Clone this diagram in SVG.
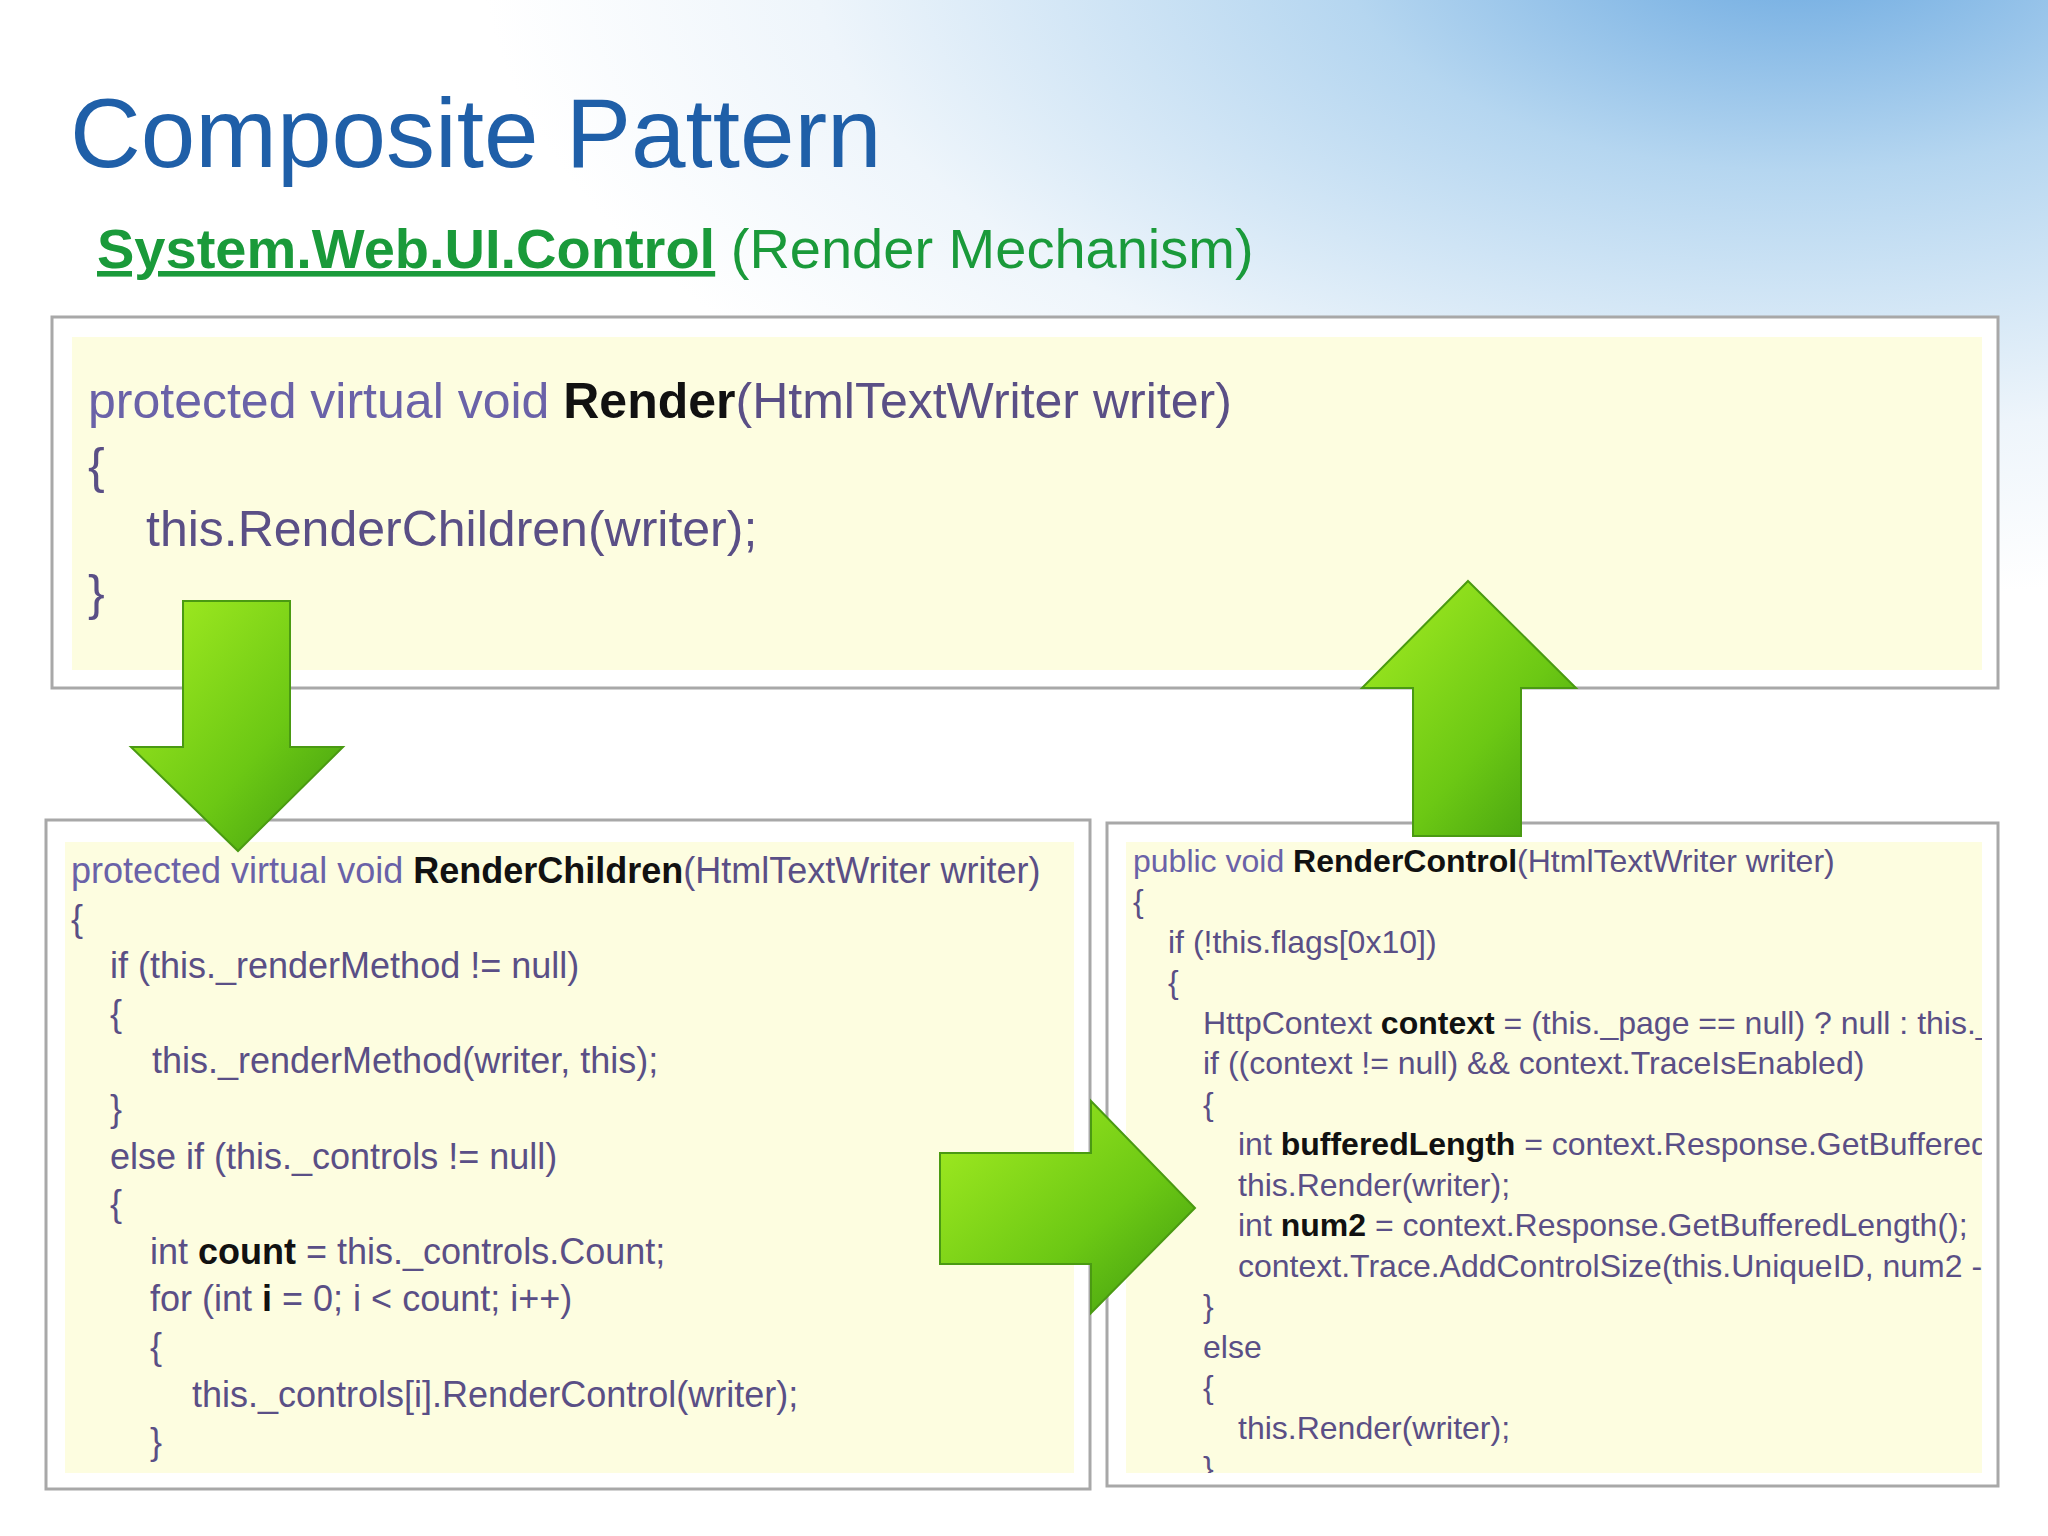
<svg xmlns="http://www.w3.org/2000/svg" width="2048" height="1536" viewBox="0 0 2048 1536">
<defs>
<radialGradient id="sky" cx="1800" cy="-60" r="1100" gradientUnits="userSpaceOnUse" gradientTransform="translate(1800 -60) scale(1.2 0.6) translate(-1800 60)">
<stop offset="0" stop-color="#6aa8e0"/><stop offset="0.35" stop-color="#b5d6f0"/><stop offset="0.75" stop-color="#eef5fb"/><stop offset="1" stop-color="#ffffff"/>
</radialGradient>
<linearGradient id="grn" x1="0" y1="0" x2="1" y2="1">
<stop offset="0" stop-color="#a6ee22"/><stop offset="0.6" stop-color="#6cc814"/><stop offset="1" stop-color="#3e9a10"/>
</linearGradient>
<clipPath id="cr"><rect x="1126" y="842" width="856" height="631"/></clipPath>
<clipPath id="cl"><rect x="65" y="842" width="1009" height="631"/></clipPath>
<style>
.box{fill:#fff;stroke:#a8a8a8;stroke-width:3}
.in{fill:#fdfde0}
.c{font-family:"Liberation Sans",Arial,sans-serif;fill:#5a4f86}
.b{font-weight:bold;fill:#111}
.k{fill:#6a62a8}
.arr{fill:url(#grn);stroke:#4a9a12;stroke-width:2}
</style>
</defs>
<rect width="2048" height="1536" fill="url(#sky)"/>
<text x="70" y="167" font-family="Liberation Sans,Arial,sans-serif" font-size="98" fill="#1f5fa8">Composite Pattern</text>
<text x="97" y="268" font-family="Liberation Sans,Arial,sans-serif" font-size="56" fill="#1a9a3a"><tspan font-weight="bold" text-decoration="underline">System.Web.UI.Control</tspan> (Render Mechanism)</text>

<g id="render">
<rect class="box" x="52" y="317" width="1946" height="371"/>
<rect class="in" x="72" y="337" width="1910" height="333"/>
<text class="c" font-size="50"><tspan x="88" y="418"><tspan class="k">protected virtual void </tspan><tspan class="b">Render</tspan>(HtmlTextWriter writer)</tspan><tspan x="88" y="483">{</tspan><tspan x="146" y="546">this.RenderChildren(writer);</tspan><tspan x="88" y="610">}</tspan></text>
</g>

<g id="renderChildren">
<rect class="box" x="46" y="820" width="1044" height="669"/>
<rect class="in" x="65" y="842" width="1009" height="631"/>
<text class="c" font-size="36" clip-path="url(#cl)">
<tspan x="71" y="883"><tspan class="k">protected virtual void </tspan><tspan class="b">RenderChildren</tspan>(HtmlTextWriter writer)</tspan>
<tspan x="71" y="931">{</tspan>
<tspan x="110" y="978">if (this._renderMethod != null)</tspan>
<tspan x="110" y="1026">{</tspan>
<tspan x="152" y="1073">this._renderMethod(writer, this);</tspan>
<tspan x="110" y="1121">}</tspan>
<tspan x="110" y="1169">else if (this._controls != null)</tspan>
<tspan x="110" y="1216">{</tspan>
<tspan x="150" y="1264">int <tspan class="b">count</tspan> = this._controls.Count;</tspan>
<tspan x="150" y="1311">for (int <tspan class="b">i</tspan> = 0; i &lt; count; i++)</tspan>
<tspan x="150" y="1359">{</tspan>
<tspan x="192" y="1407">this._controls[i].RenderControl(writer);</tspan>
<tspan x="150" y="1454">}</tspan>
</text>
</g>

<g id="renderControl">
<rect class="box" x="1107" y="823" width="891" height="663"/>
<rect class="in" x="1126" y="842" width="856" height="631"/>
<text class="c" font-size="32" clip-path="url(#cr)">
<tspan x="1133" y="872"><tspan class="k">public void </tspan><tspan class="b">RenderControl</tspan>(HtmlTextWriter writer)</tspan>
<tspan x="1133" y="912">{</tspan>
<tspan x="1168" y="953">if (!this.flags[0x10])</tspan>
<tspan x="1168" y="993">{</tspan>
<tspan x="1203" y="1034">HttpContext <tspan class="b">context</tspan> = (this._page == null) ? null : this._page.Context;</tspan>
<tspan x="1203" y="1074">if ((context != null) &amp;&amp; context.TraceIsEnabled)</tspan>
<tspan x="1203" y="1115">{</tspan>
<tspan x="1238" y="1155">int <tspan class="b">bufferedLength</tspan> = context.Response.GetBufferedLength();</tspan>
<tspan x="1238" y="1196">this.Render(writer);</tspan>
<tspan x="1238" y="1236">int <tspan class="b">num2</tspan> = context.Response.GetBufferedLength();</tspan>
<tspan x="1238" y="1277">context.Trace.AddControlSize(this.UniqueID, num2 - bufferedLength);</tspan>
<tspan x="1203" y="1317">}</tspan>
<tspan x="1203" y="1358">else</tspan>
<tspan x="1203" y="1398">{</tspan>
<tspan x="1238" y="1439">this.Render(writer);</tspan>
<tspan x="1203" y="1479">}</tspan>
</text>
</g>

<g id="connectors">
<polygon class="arr" points="183,601 290,601 290,747 343,747 238,851 131,747 183,747"/>
<polygon class="arr" points="1468,581 1576,688 1521,688 1521,836 1413,836 1413,688 1362,688"/>
<polygon class="arr" points="940,1153 1091,1153 1091,1101 1195,1208 1091,1313 1091,1264 940,1264"/>
</g>
</svg>
